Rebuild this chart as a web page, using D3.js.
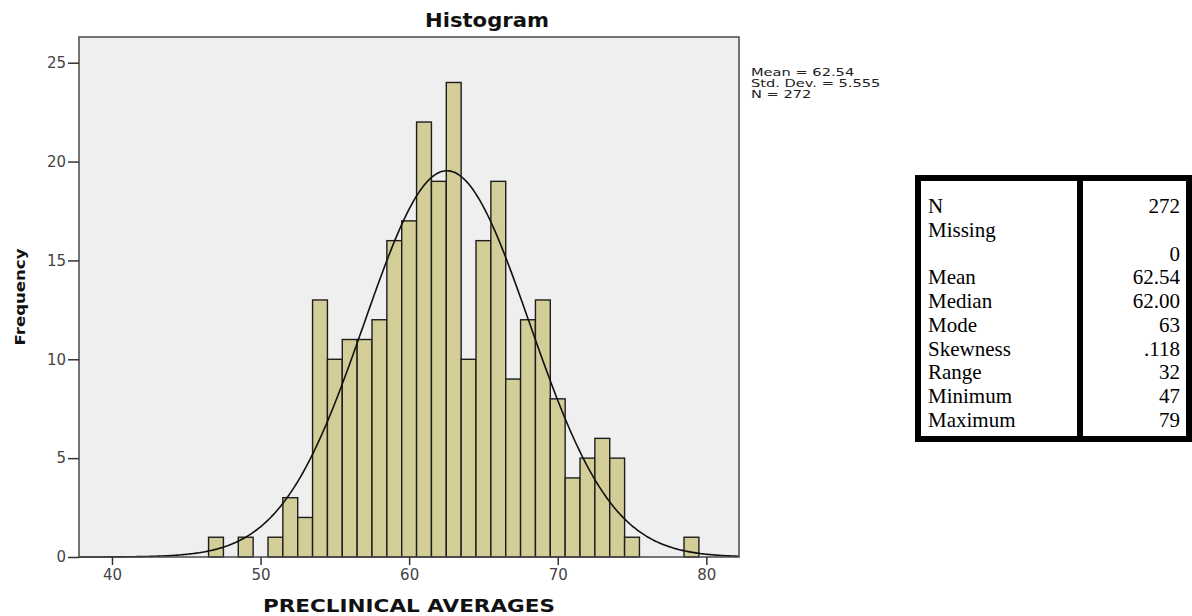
<!DOCTYPE html>
<html lang="en">

<head>
    <meta charset="UTF-8">
    <script src="https://cdn.jsdelivr.net/npm/d3@7/dist/d3.min.js"></script>
    <title>Histogram</title>
    <style>
        body { margin: 0; background: #fff; }
    </style>
</head>

<body>
    <svg id="mainsvg" width="1192" height="616" font-family="DejaVu Sans, sans-serif"></svg>
    <script>
        // histogram data: score (bin centre) and frequency
        const scores = [47, 48, 49, 50, 51, 52, 53, 54, 55, 56, 57, 58, 59, 60, 61, 62, 63,
            64, 65, 66, 67, 68, 69, 70, 71, 72, 73, 74, 75, 76, 77, 78, 79]
        const counts = [1, 0, 1, 0, 1, 3, 2, 13, 10, 11, 11, 12, 16, 17, 22, 19, 24,
            10, 16, 19, 9, 12, 13, 8, 4, 5, 6, 5, 1, 0, 0, 0, 1]
        const xTicks = [40, 50, 60, 70, 80]
        const yTicks = [0, 5, 10, 15, 20, 25]
        const fitMean = 62.54
        const fitSd = 5.555
        const fitN = 272
        const legendLines = ['Mean = 62.54', 'Std. Dev. = 5.555', 'N = 272']

        // statistics table (one entry per text line)
        const statLabels = ['N', 'Missing', '', 'Mean', 'Median', 'Mode', 'Skewness', 'Range', 'Minimum', 'Maximum']
        const statValues = ['272', '', '0', '62.54', '62.00', '63', '.118', '32', '47', '79']

        const svg = d3.select('#mainsvg')
        const plot = { left: 79, top: 37, right: 739, bottom: 557 }

        const xScale = d3.scaleLinear().domain([37.78, 82.2]).range([plot.left, plot.right])
        const yScale = d3.scaleLinear().domain([0, 26.3]).range([plot.bottom, plot.top])

        // plot background
        svg.append('rect')
            .attr('x', plot.left).attr('y', plot.top)
            .attr('width', plot.right - plot.left).attr('height', plot.bottom - plot.top)
            .attr('fill', '#efefef')

        // bars
        const bins = scores.map((s, i) => ({ score: s, count: counts[i] })).filter(d => d.count > 0)
        svg.append('g').selectAll('rect').data(bins).join('rect')
            .attr('x', d => xScale(d.score - 0.5))
            .attr('width', d => xScale(d.score + 0.5) - xScale(d.score - 0.5))
            .attr('y', d => yScale(d.count))
            .attr('height', d => yScale(0) - yScale(d.count))
            .attr('fill', '#d3cd98')
            .attr('stroke', '#1e1e1e')
            .attr('stroke-width', 1.4)

        // fitted normal curve (bin width 1)
        const density = v => fitN / (fitSd * Math.sqrt(2 * Math.PI)) * Math.exp(-0.5 * ((v - fitMean) / fitSd) ** 2)
        const [x0, x1] = xScale.domain()
        const curvePts = d3.range(x0, x1, 0.1).concat([x1]).map(v => [v, density(v)])
        svg.append('path')
            .attr('d', d3.line().x(d => xScale(d[0])).y(d => yScale(d[1]))(curvePts))
            .attr('fill', 'none')
            .attr('stroke', '#111')
            .attr('stroke-width', 1.6)

        // frame
        svg.append('rect')
            .attr('x', plot.left).attr('y', plot.top)
            .attr('width', plot.right - plot.left).attr('height', plot.bottom - plot.top)
            .attr('fill', 'none')
            .attr('stroke', '#4a4a4a')
            .attr('stroke-width', 1.5)

        // axes
        const xAxis = d3.axisBottom(xScale).tickValues(xTicks).tickSize(8).tickPadding(4)
        svg.append('g').attr('transform', `translate(0,${plot.bottom})`).call(xAxis)
        const yAxis = d3.axisLeft(yScale).tickValues(yTicks).tickSize(11).tickPadding(2)
        svg.append('g').attr('transform', `translate(${plot.left},0)`).call(yAxis)
        svg.selectAll('.domain').remove()
        svg.selectAll('.tick line').attr('stroke', '#333').attr('stroke-width', 1.5)
        svg.selectAll('.tick text')
            .attr('font-family', 'DejaVu Sans, sans-serif')
            .attr('font-size', 15)
            .attr('fill', '#444')

        // titles
        svg.append('text').text('Histogram')
            .attr('x', 487).attr('y', 27)
            .attr('text-anchor', 'middle')
            .attr('font-size', 19).attr('font-weight', 'bold')
            .attr('fill', '#111')
            .attr('textLength', 124).attr('lengthAdjust', 'spacingAndGlyphs')

        svg.append('text').text('PRECLINICAL AVERAGES')
            .attr('x', (plot.left + plot.right) / 2).attr('y', 612)
            .attr('text-anchor', 'middle')
            .attr('font-size', 17).attr('font-weight', 'bold')
            .attr('fill', '#111')
            .attr('textLength', 292).attr('lengthAdjust', 'spacingAndGlyphs')

        svg.append('text').text('Frequency')
            .attr('transform', 'translate(25,297) rotate(-90)')
            .attr('text-anchor', 'middle')
            .attr('font-size', 14).attr('font-weight', 'bold')
            .attr('fill', '#111')
            .attr('textLength', 97).attr('lengthAdjust', 'spacingAndGlyphs')

        // legend
        const legend = svg.append('g').attr('transform', 'translate(751,76) scale(1.38,1)')
        legend.selectAll('text').data(legendLines).join('text')
            .text(d => d)
            .attr('x', 0).attr('y', (d, i) => i * 10.8)
            .attr('font-size', 10.6)
            .attr('fill', '#222')

        // statistics table
        const table = { left: 918, right: 1189, top: 178, bottom: 439, divider: 1080 }
        const rowY = d3.scalePoint().domain(d3.range(statLabels.length)).range([213, 427])
        const serif = 'Liberation Serif, Times New Roman, serif'
        const tg = svg.append('g')
        tg.append('rect')
            .attr('x', table.left).attr('y', table.top)
            .attr('width', table.right - table.left).attr('height', table.bottom - table.top)
            .attr('fill', '#fff').attr('stroke', '#000').attr('stroke-width', 6)
        tg.append('line')
            .attr('x1', table.divider).attr('x2', table.divider)
            .attr('y1', table.top).attr('y2', table.bottom)
            .attr('stroke', '#000').attr('stroke-width', 6)
        tg.selectAll('.lbl').data(statLabels).join('text')
            .attr('class', 'lbl')
            .text(d => d)
            .attr('x', 928).attr('y', (d, i) => rowY(i))
            .attr('font-family', serif)
            .attr('font-size', 21)
        tg.selectAll('.val').data(statValues).join('text')
            .attr('class', 'val')
            .text(d => d)
            .attr('x', 1180).attr('y', (d, i) => rowY(i))
            .attr('text-anchor', 'end')
            .attr('font-family', serif)
            .attr('font-size', 21)
    </script>
</body>

</html>
